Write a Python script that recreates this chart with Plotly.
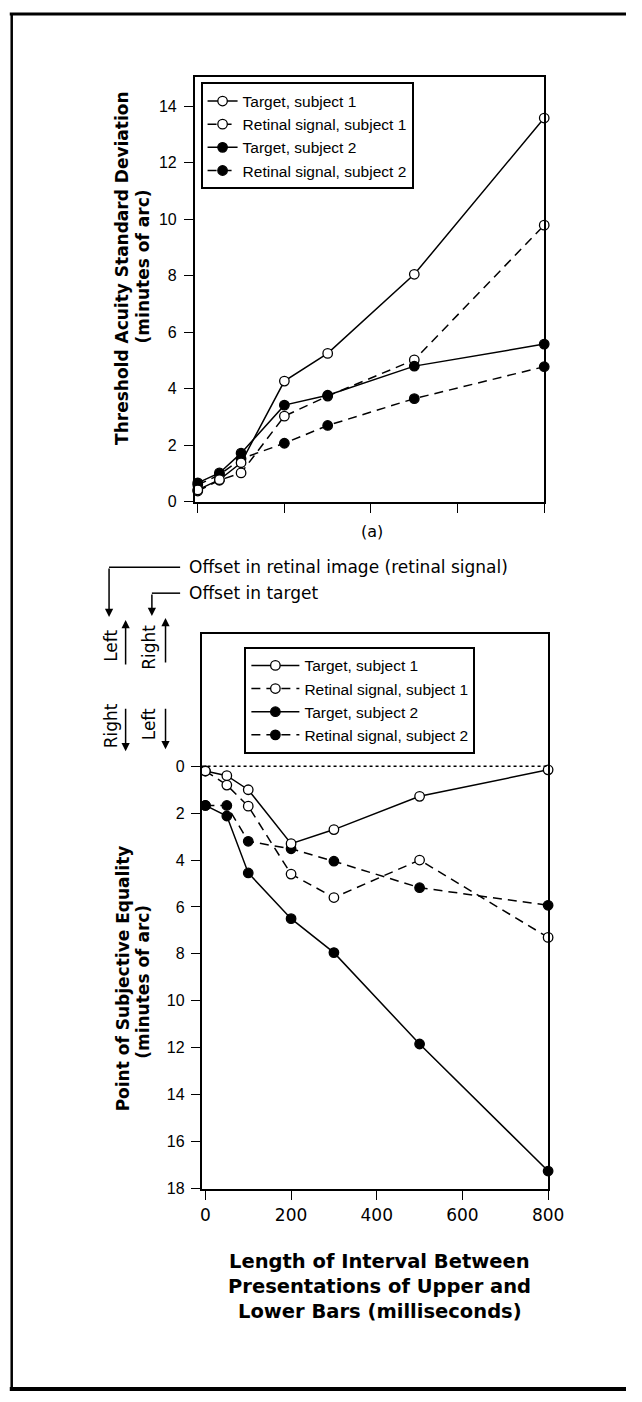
import plotly.graph_objects as go

W, H = 642, 1402

# ---------------- data ----------------
x_ms = [0, 50, 100, 200, 300, 500, 800]

# (a) threshold acuity standard deviation (minutes of arc)
sd_target_s1 = [0.42, 0.78, 1.38, 4.27, 5.25, 8.05, 13.58]
sd_retinal_s1 = [0.38, 0.76, 1.02, 3.03, 3.74, 5.02, 9.79]
sd_target_s2 = [0.67, 1.02, 1.72, 3.42, 3.77, 4.80, 5.58]
sd_retinal_s2 = [0.60, 0.95, 1.52, 2.07, 2.70, 3.65, 4.78]

# point of subjective equality (minutes of arc)
pse_target_s1 = [0.20, 0.40, 1.00, 3.30, 2.70, 1.28, 0.15]
pse_retinal_s1 = [0.20, 0.80, 1.70, 4.60, 5.60, 4.00, 7.30]
pse_target_s2 = [1.67, 2.12, 4.55, 6.50, 7.95, 11.85, 17.27]
pse_retinal_s2 = [1.67, 1.67, 3.20, 3.52, 4.05, 5.18, 5.93]

series_names = ["Target, subject 1", "Retinal signal, subject 1",
                "Target, subject 2", "Retinal signal, subject 2"]
top_tick_vals = [0, 2, 4, 6, 8, 10, 12, 14]
bottom_tick_vals = [0, 2, 4, 6, 8, 10, 12, 14, 16, 18]
x_tick_vals = [0, 200, 400, 600, 800]
x_tick_text = ["0", "200", "400", "600", "800"]


def px(x):
    return x / W


def py(y):
    return 1 - y / H


DASH = "9px,6px"
styles = [
    dict(open=True, dash="solid"),
    dict(open=True, dash=DASH),
    dict(open=False, dash="solid"),
    dict(open=False, dash=DASH),
]

fig = go.Figure()


def add_series(xs, ys, name, st, xa, ya, legend, size):
    marker = dict(size=size, symbol="circle",
                  color="white" if st["open"] else "black",
                  line=dict(color="black", width=1.3))
    fig.add_trace(go.Scatter(
        x=xs, y=ys, name=name, mode="lines+markers",
        line=dict(color="black", width=1.5, dash=st["dash"]),
        marker=marker, xaxis=xa, yaxis=ya, legend=legend,
        cliponaxis=False,
        legendrank=series_names.index(name) + 1,
    ))


top_data = [sd_target_s1, sd_retinal_s1, sd_target_s2, sd_retinal_s2]
bot_data = [pse_target_s1, pse_retinal_s1, pse_target_s2, pse_retinal_s2]

# draw dashed first so solid lines sit on top like the original
order = [3, 1, 2, 0]
for i in order:
    add_series(x_ms, top_data[i], series_names[i], styles[i], "x", "y", "legend", 9.5)
for i in order:
    add_series(x_ms, bot_data[i], series_names[i], styles[i], "x2", "y2", "legend2", 9.5)

tick_font = dict(family="Liberation Sans, Arial, sans-serif", size=16, color="black")
axis_common = dict(showline=True, linecolor="black", linewidth=1.6, mirror=True,
                   ticks="outside", ticklen=9, tickwidth=1.3, tickcolor="black",
                   showgrid=False, zeroline=False)

fig.update_layout(
    width=W, height=H,
    margin=dict(l=0, r=0, t=0, b=0),
    paper_bgcolor="white", plot_bgcolor="white",
    xaxis=dict(domain=[px(199), px(558)], range=[-7, 800], anchor="y",
               tickvals=x_tick_vals, showticklabels=False, **axis_common),
    yaxis=dict(domain=[py(505), py(77)], range=[0, 15.05], anchor="x",
               tickvals=top_tick_vals, tickfont=tick_font, ticklabelstandoff=4,
               **axis_common),
    xaxis2=dict(domain=[px(206), px(562)], range=[-9, 800], anchor="y2",
                tickvals=x_tick_vals, ticktext=x_tick_text,
                tickfont=dict(family="DejaVu Sans, sans-serif", size=17, color="black"),
                **axis_common),
    yaxis2=dict(domain=[py(1197), py(638)], range=[18.05, -5.65], anchor="x2",
                tickvals=bottom_tick_vals, tickfont=tick_font, ticklabelstandoff=3,
                **axis_common),
    legend=dict(x=px(205), y=py(83), xanchor="left", yanchor="top",
                bordercolor="black", borderwidth=2, bgcolor="white",
                font=dict(family="Liberation Sans, Arial, sans-serif", size=15.5, color="black"),
                traceorder="normal", itemwidth=30, tracegroupgap=0),
    legend2=dict(x=px(250), y=py(651), xanchor="left", yanchor="top",
                 bordercolor="black", borderwidth=2, bgcolor="white",
                 font=dict(family="Liberation Sans, Arial, sans-serif", size=15.5, color="black"),
                 traceorder="normal", itemwidth=48, tracegroupgap=0),
    showlegend=True,
)

shapes = []
# outer frame
shapes.append(dict(type="line", xref="paper", yref="paper", x0=px(9), x1=1.0,
                   y0=py(14), y1=py(14), line=dict(color="black", width=3)))
shapes.append(dict(type="line", xref="paper", yref="paper", x0=px(11), x1=px(11),
                   y0=py(14), y1=py(1398), line=dict(color="black", width=2.5)))
shapes.append(dict(type="line", xref="paper", yref="paper", x0=px(9), x1=1.0,
                   y0=py(1398), y1=py(1398), line=dict(color="black", width=4)))
# dotted zero line in the lower panel
shapes.append(dict(type="line", xref="x2 domain", yref="y2", x0=0, x1=1, y0=0, y1=0,
                   line=dict(color="black", width=1.5, dash="dot")))
# leader lines for the offset labels
shapes.append(dict(type="line", xref="paper", yref="paper", x0=px(111), x1=px(184),
                   y0=py(571), y1=py(571), line=dict(color="black", width=1.5)))
shapes.append(dict(type="line", xref="paper", yref="paper", x0=px(155), x1=px(184),
                   y0=py(597), y1=py(597), line=dict(color="black", width=1.5)))
fig.update_layout(shapes=shapes)

ann_font = dict(family="DejaVu Sans, sans-serif", size=17, color="black")
bold_font = dict(family="DejaVu Sans, sans-serif", size=17, color="black", weight="bold")
title_font = dict(family="DejaVu Sans, sans-serif", size=19.5, color="black", weight="bold")

annotations = []


def text(x, y, s, font, angle=0, xanchor="center"):
    annotations.append(dict(x=px(x), y=py(y), xref="paper", yref="paper", text=s,
                            showarrow=False, font=font, textangle=angle,
                            xanchor=xanchor, yanchor="middle"))


def arrow(x, y_tail, y_head):
    annotations.append(dict(x=px(x), y=py(y_head), xref="paper", yref="paper",
                            ax=0, ay=y_tail - y_head, text="", showarrow=True,
                            arrowhead=2, arrowsize=1.1, arrowwidth=1.5,
                            arrowcolor="black", standoff=0, startstandoff=0))


# y axis titles
text(125, 270, "<b>Threshold Acuity Standard Deviation</b>", bold_font, -90)
text(146, 268, "<b>(minutes of arc)</b>", bold_font, -90)
text(125, 985, "<b>Point of Subjective Equality</b>", bold_font, -90)
text(146, 988, "<b>(minutes of arc)</b>", bold_font, -90)

# x axis title (lower panel)
text(389, 1270, "<b>Length of Interval Between</b>", title_font)
text(389, 1295, "<b>Presentations of Upper and</b>", title_font)
text(389, 1320, "<b>Lower Bars (milliseconds)</b>", title_font)

# panel label
text(381, 535, "(a)", dict(family="DejaVu Sans, sans-serif", size=16, color="black"))

# offset labels
text(191, 571, "Offset in retinal image (retinal signal)", ann_font, 0, "left")
text(191, 597, "Offset in target", ann_font, 0, "left")
arrow(111, 571, 621)
arrow(155, 597, 620)

# direction labels
text(113, 650, "Left", ann_font, -90)
text(152, 651, "Right", ann_font, -90)
text(113, 731, "Right", ann_font, -90)
text(152, 729, "Left", ann_font, -90)
arrow(128, 670, 624)
arrow(169, 668, 622)
arrow(128, 712, 756)
arrow(169, 712, 754)

fig.update_layout(annotations=annotations)

fig.write_html(
    "out.html",
    config={"displayModeBar": False},
    post_script=(
        "document.documentElement.style.margin='0';"
        "document.documentElement.style.overflow='hidden';"
        "document.body.style.margin='0';"
        "document.body.style.overflow='hidden';"
        "var gd=document.getElementById('{plot_id}');"
        "gd.style.position='fixed';gd.style.left='0';gd.style.top='0';"
    ),
)
